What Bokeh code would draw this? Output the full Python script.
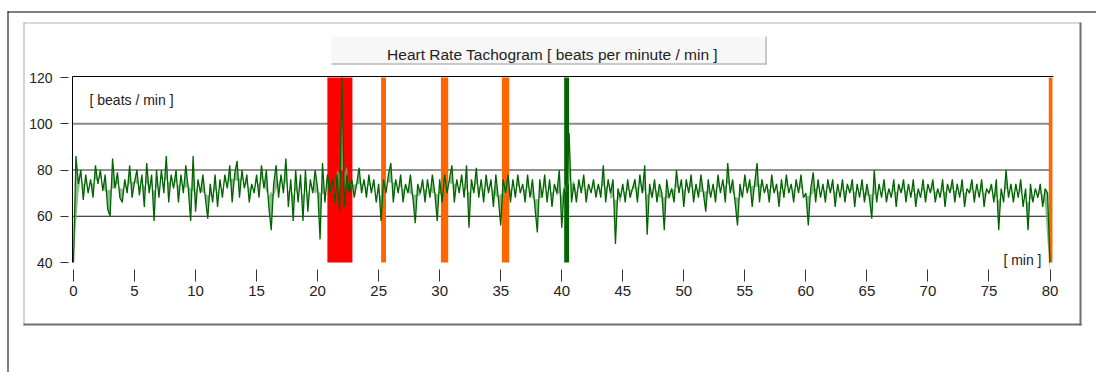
import numpy as np
from bokeh.plotting import figure
from bokeh.models import BoxAnnotation, Label, FixedTicker, Range1d, ColumnDataSource
from bokeh.embed import file_html
from bokeh.resources import INLINE

# ---------------- data ----------------
sample_step_min = 0.2  # one value every 0.2 min
heart_rate = [
    40, 86, 74, 80, 67,  78, 70, 76, 68, 82,  74, 80, 71, 78, 63,  60, 85, 72, 79, 68,  66, 76, 70, 82, 68,
    75, 80, 69, 78, 64,  83, 70, 78, 58, 80,  68, 80, 70, 86, 66,  78, 72, 80, 66, 78,  70, 82, 72, 58, 86,
    62, 76, 70, 78, 68,  59, 74, 66, 78, 64,  76, 68, 78, 72, 82,  66, 78, 84, 68, 80,  72, 78, 66, 74, 70,
    78, 68, 82, 72, 80,  64, 54, 74, 82, 68,  78, 70, 85, 64, 76,  58, 80, 66, 78, 58,  80, 62, 76, 70, 80,
    72, 50, 83, 66, 78,  70, 76, 66, 78, 62,  120, 64, 78, 70, 76, 68, 74, 81, 70, 76,  68, 78, 70, 76, 66,
    74, 58, 76, 70, 78,  83, 66, 76, 70, 78,  66, 74, 70, 78, 68,  57, 74, 70, 76, 66,  76, 68, 78, 70, 58,
    76, 66, 78, 70, 76,  82, 66, 76, 70, 78,  68, 82, 55, 76, 70,  81, 68, 76, 66, 78,  70, 76, 64, 78, 68,
    56, 76, 70, 78, 66,  76, 68, 78, 70, 74,  66, 78, 68, 76, 64,  53, 76, 68, 78, 66,  76, 64, 74, 70, 80,
    55, 72, 68, 96, 66,  74, 66, 76, 70, 78,  66, 74, 70, 76, 68,  74, 68, 82, 66, 76,  70, 76, 48, 72, 68,
    74, 66, 76, 68, 72,  76, 66, 78, 70, 82,  52, 74, 68, 76, 66,  74, 70, 54, 76, 68,  72, 66, 80, 70, 76,
    64, 76, 70, 78, 66,  74, 68, 78, 70, 62,  76, 68, 74, 66, 78,  70, 76, 66, 83, 70,  76, 66, 56, 74, 68,
    78, 70, 76, 64, 74,  83, 66, 76, 70, 74,  66, 78, 70, 74, 64,  76, 68, 78, 70, 74,  66, 76, 70, 78, 68,
    70, 56, 72, 79, 66,  76, 68, 74, 66, 76,  70, 76, 64, 74, 68,  76, 66, 74, 70, 76,  64, 74, 68, 76, 66,
    74, 68, 59, 80, 66,  74, 68, 76, 66, 72,  68, 76, 64, 74, 70,  76, 66, 74, 68, 76,  64, 72, 68, 76, 66,
    74, 70, 76, 66, 72,  68, 76, 64, 74, 70,  76, 66, 74, 68, 76,  64, 72, 70, 76, 66,  74, 68, 76, 64, 72,
    70, 74, 66, 76, 54,  72, 66, 80, 68, 74,  66, 74, 68, 76, 64,  72, 54, 74, 66, 72,  68, 74, 64, 72, 70,
    40,
]
event_start = [20.8, 25.2, 30.1, 35.1, 40.2, 79.9]
event_end = [22.85, 25.6, 30.7, 35.7, 40.6, 80.2]
event_type = ["artifact", "marker", "marker", "marker", "note", "marker"]
x_ticks = list(range(0, 81, 5))
y_ticks = [40, 60, 80, 100, 120]
grid_levels = [60, 80, 100]
title_text = "Heart Rate Tachogram [ beats per minute / min ]"
y_unit_text = "[ beats / min ]"
x_unit_text = "[ min ]"

# ---------------- layout / styles ----------------
W, H = 1096, 372
X0_PX, X1_PX = 73.0, 1049.5      # pixel of first / last x tick
Y0_PX, Y1_PX = 262.0, 77.0       # pixel of lowest / highest y tick
EVENT_COLORS = {"artifact": "#ff0000", "marker": "#ff6600", "note": "#006400"}
GRID_STYLE = {60: ("#111111", 1), 80: ("#222222", 1), 100: ("#8a8a8a", 2)}
FONT = "Liberation Sans"
TXT = "#222222"

xs = (X1_PX - X0_PX) / (x_ticks[-1] - x_ticks[0])
ys = (Y0_PX - Y1_PX) / (y_ticks[-1] - y_ticks[0])
def px_x(px):
    return x_ticks[0] + (px - X0_PX) / xs
def px_y(py):
    return y_ticks[0] + (Y0_PX - py) / ys

hr = np.array(heart_rate, dtype=float)
t = np.arange(len(hr)) * sample_step_min
smooth = np.convolve(hr, np.ones(5) / 5, mode="same")

p = figure(width=W, height=H, x_range=Range1d(px_x(0), px_x(W)), y_range=Range1d(px_y(H), px_y(0)),
           output_backend="svg", toolbar_location=None, min_border=0)
p.title.visible = False
p.outline_line_color = None
p.xgrid.visible = False
p.ygrid.visible = False
p.background_fill_color = "white"
p.border_fill_color = "white"

frame_left = px_x(72)
frame_top = px_y(76)
frame_right = px_x(1053)

# axes (placed at the plot edges inside the canvas)
xa = p.xaxis[0]
xa.fixed_location = y_ticks[0]
xa.bounds = (x_ticks[0], x_ticks[-1])
xa.ticker = FixedTicker(ticks=x_ticks)
xa.axis_line_color = None
xa.major_tick_in = -7
xa.major_tick_out = 19
xa.major_tick_line_color = "#333333"
xa.minor_tick_line_color = None
xa.major_label_standoff = 4
xa.major_label_text_font = FONT
xa.major_label_text_font_size = "15px"
xa.major_label_text_color = TXT

ya = p.yaxis[0]
ya.fixed_location = frame_left
ya.bounds = (y_ticks[0], frame_top)
ya.ticker = FixedTicker(ticks=y_ticks)
ya.axis_line_color = "black"
ya.axis_line_width = 1
ya.major_tick_in = -4
ya.major_tick_out = 12
ya.major_tick_line_color = "#333333"
ya.minor_tick_line_color = None
ya.major_label_standoff = 8
ya.major_label_text_font = FONT
ya.major_label_text_font_size = "14px"
ya.major_label_text_color = TXT

# decorative frames (canvas pixels)
def cbox(l, r, tp, b, color):
    p.add_layout(BoxAnnotation(left=px_x(l), right=px_x(r), top=px_y(tp), bottom=px_y(b),
                               fill_color=color, fill_alpha=1.0, line_color=None,
                               level="underlay"))

cbox(7, W, 11, 12, "black")
cbox(7, 8, 11, H, "black")
cbox(23, 1081, 22, 23, "#b4b4b4")
cbox(23, 24, 22, 325, "#a8a8a8")
cbox(23, 1081, 323, 325, "#6e6e6e")
cbox(1079, 1081, 22, 325, "#6e6e6e")
cbox(331, 766, 36, 64, "#f7f7f7")
cbox(331, 766, 63, 64, "#9a9a9a")
cbox(765, 766, 36, 64, "#9a9a9a")

# plot top border and grid lines
p.segment(x0=frame_left, y0=frame_top, x1=frame_right, y1=frame_top, line_color="black", line_width=1)
gsrc = ColumnDataSource(dict(
    x0=[frame_left] * len(grid_levels), x1=[x_ticks[-1]] * len(grid_levels),
    y=grid_levels,
    c=[GRID_STYLE[g][0] for g in grid_levels], w=[GRID_STYLE[g][1] for g in grid_levels]))
p.segment(x0="x0", y0="y", x1="x1", y1="y", line_color="c", line_width="w", source=gsrc)

# event bars
esrc = ColumnDataSource(dict(left=event_start, right=event_end,
                             c=[EVENT_COLORS[e] for e in event_type]))
p.quad(left="left", right="right", bottom=y_ticks[0], top=y_ticks[-1], fill_color="c",
       line_color=None, source=esrc)

# tachogram
p.varea(x=t, y1=hr, y2=smooth, fill_color="#6fae6f", fill_alpha=0.8)
p.line(t, hr, line_color="#006400", line_width=1.3)

# texts
p.add_layout(Label(x=px_x(89), y=px_y(99), text=y_unit_text, text_font=FONT, text_font_size="14px",
                   text_color=TXT, text_baseline="middle", text_align="left"))
p.add_layout(Label(x=px_x(1041), y=px_y(259), text=x_unit_text, text_font=FONT, text_font_size="14px",
                   text_color=TXT, text_baseline="middle", text_align="right"))
p.add_layout(Label(x=px_x(552), y=px_y(54), text=title_text, text_font=FONT, text_font_size="15.5px",
                   text_color=TXT, text_baseline="middle", text_align="center"))

open("out.html", "w").write(file_html(p, INLINE))
